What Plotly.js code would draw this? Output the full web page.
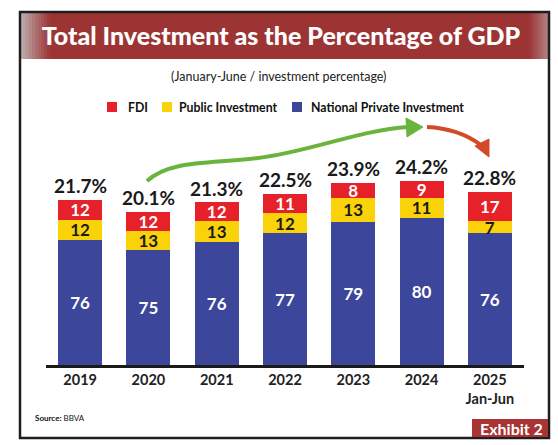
<!DOCTYPE html>
<html>
<head>
<meta charset="utf-8">
<script src="https://cdn.plot.ly/plotly-3.0.1.min.js"></script>
<style>html,body{margin:0;padding:0;background:#fff;}#chart{width:558px;height:445px;}</style>
</head>
<body>
<div id="chart"></div>
<script>
// ---- data ----
const years = ['2019','2020','2021','2022','2023','2024','2025<br>Jan-Jun'];
const fdiShare = [12,12,12,11,8,9,17];
const publicShare = [12,13,13,12,13,11,7];
const privateShare = [76,75,76,77,79,80,76];
const totalPct = [21.7,20.1,21.3,22.5,23.9,24.2,22.8];
const seriesNames = ['FDI','Public Investment','National Private Investment'];
const seriesColors = ['#e62129','#f9d209','#3c469b'];
const titleText = 'Total Investment as the Percentage of GDP';
const subtitleText = '(January-June / investment percentage)';
const sourceText = '<b>Source:</b> BBVA';
const exhibitText = 'Exhibit 2';

// ---- helpers (pixel -> paper) ----
const W = 558, H = 445;
const X = p => p / W;
const Y = p => 1 - p / H;
const P = s => s.replace(/(-?\d+\.?\d*),(-?\d+\.?\d*)/g, (m,a,b) => X(+a).toFixed(5) + ',' + Y(+b).toFixed(5));

const FONT = 'Lato, "Open Sans", sans-serif';
const seg = (share) => share.map((s,i) => totalPct[i] * s / 100);

const traces = [
  {name: seriesNames[2], share: privateShare, color: seriesColors[2], tc: '#ffffff'},
  {name: seriesNames[1], share: publicShare, color: seriesColors[1], tc: '#1a1a1a'},
  {name: seriesNames[0], share: fdiShare, color: seriesColors[0], tc: '#ffffff'}
].map(t => ({
  type: 'bar', x: years, y: seg(t.share), name: t.name,
  text: t.share.map(String), textposition: 'inside', insidetextanchor: 'middle',
  constraintext: 'none', textangle: 0,
  textfont: {family: FONT, size: 17, color: t.tc, weight: 'bold'},
  marker: {color: t.color, line: {width: 0}},
  hoverinfo: 'skip', cliponaxis: false, showlegend: false
}));

// ---- decorative shapes ----
const shapes = [];
const bannerColor = [157,52,52];
const edge = [190,180,180];
const mix = (t) => 'rgb(' + bannerColor.map((c,i) => Math.round(edge[i] + (c - edge[i]) * t)).join(',') + ')';
shapes.push({type:'rect', xref:'paper', yref:'paper', x0:X(20), x1:X(549), y0:Y(59), y1:Y(12), fillcolor:mix(1), line:{width:0}, layer:'below'});
const steps = 10;
for (let i = 0; i < steps; i++) {
  const t = (i + 0.5) / steps;
  shapes.push({type:'rect', xref:'paper', yref:'paper', x0:X(20 + i*3), x1:X(20 + (i+1)*3 + 0.5), y0:Y(59), y1:Y(12), fillcolor:mix(t), line:{width:0}, layer:'below'});
  shapes.push({type:'rect', xref:'paper', yref:'paper', x0:X(549 - (i+1)*2 - 0.5), x1:X(549 - i*2), y0:Y(59), y1:Y(12), fillcolor:mix(0.35 + 0.65*t), line:{width:0}, layer:'below'});
}
// frame
shapes.push({type:'rect', xref:'paper', yref:'paper', x0:X(20), x1:X(549), y0:Y(438), y1:Y(12), fillcolor:'rgba(0,0,0,0)', line:{color:'#1e1e1e', width:2.5}});
// exhibit box
shapes.push({type:'rect', xref:'paper', yref:'paper', x0:X(472), x1:X(548), y0:Y(437), y1:Y(419), fillcolor:'#a83434', line:{width:0}});
// green arrow
shapes.push({type:'path', xref:'paper', yref:'paper', path:P('M147,181 C170,160 208,164 258,158 S360,130 408,127'), line:{color:'#6ab43e', width:4}, fillcolor:'rgba(0,0,0,0)'});
shapes.push({type:'path', xref:'paper', yref:'paper', path:P('M423,127 L406,118 L407,137 Z'), line:{color:'#6ab43e', width:1}, fillcolor:'#6ab43e'});
// red arrow
shapes.push({type:'path', xref:'paper', yref:'paper', path:P('M427,127 C449,128 466,134 481,145'), line:{color:'#d24a28', width:4}, fillcolor:'rgba(0,0,0,0)'});
shapes.push({type:'path', xref:'paper', yref:'paper', path:P('M489,157 L475,146 L489,139 Z'), line:{color:'#d24a28', width:1}, fillcolor:'#d24a28'});

// manual legend
const legendSquares = [107, 162, 292];
const legendText = [126, 177, 309];
const annotations = [];
seriesNames.forEach((n,i) => {
  shapes.push({type:'rect', xref:'paper', yref:'paper', x0:X(legendSquares[i]), x1:X(legendSquares[i] + 10), y0:Y(112), y1:Y(102), fillcolor:seriesColors[i], line:{width:0}});
  annotations.push({xref:'paper', yref:'paper', x:X(legendText[i]), y:Y(107), text:'<b>' + n + '</b>', showarrow:false, xanchor:'left', yanchor:'middle',
    font:{family:FONT, size:12.3, color:'#111'}});
});

totalPct.forEach((v,i) => annotations.push({
  x: i, y: v, xref:'x', yref:'y', text: '<b>' + v.toFixed(1) + '%</b>', showarrow:false,
  yanchor:'bottom', yshift: 1, font:{family:FONT, size:19, color:'#1a1a1a'}
}));
annotations.push({xref:'paper', yref:'paper', x:X(278), y:Y(77), text: subtitleText, showarrow:false, xanchor:'center', yanchor:'middle', font:{family:FONT, size:12.5, color:'#222'}});
annotations.push({xref:'paper', yref:'paper', x:X(33), y:Y(418), text: sourceText, showarrow:false, xanchor:'left', yanchor:'middle', font:{family:FONT, size:8, color:'#111'}});
annotations.push({xref:'paper', yref:'paper', x:X(511), y:Y(428), text: '<b>' + exhibitText + '</b>', showarrow:false, xanchor:'center', yanchor:'middle', font:{family:FONT, size:16, color:'#ffffff'}});

const layout = {
  width: W, height: H,
  margin: {l:0, r:0, t:0, b:0, pad:0},
  paper_bgcolor: '#ffffff', plot_bgcolor: 'rgba(0,0,0,0)',
  barmode: 'stack', bargap: 0.356,
  title: {text: titleText, x: X(281), xanchor:'center', y: Y(36), yanchor:'middle',
          font: {family: FONT, size: 25, color: '#ffffff', weight: 900}},
  xaxis: {domain:[X(46), X(524)], range:[-0.5, 6.5], type:'category', showline:true, linecolor:'#1a1a1a', linewidth:3,
          ticks:'', showgrid:false, zeroline:false, fixedrange:true,
          tickfont:{family:FONT, size:14.5, color:'#222', weight:'bold'}},
  yaxis: {domain:[Y(365), Y(130)], range:[0, 30.92], visible:false, showgrid:false, zeroline:false, fixedrange:true},
  showlegend: false,
  shapes: shapes,
  annotations: annotations
};

Plotly.newPlot('chart', traces, layout, {staticPlot:true, displayModeBar:false});
</script>
</body>
</html>
